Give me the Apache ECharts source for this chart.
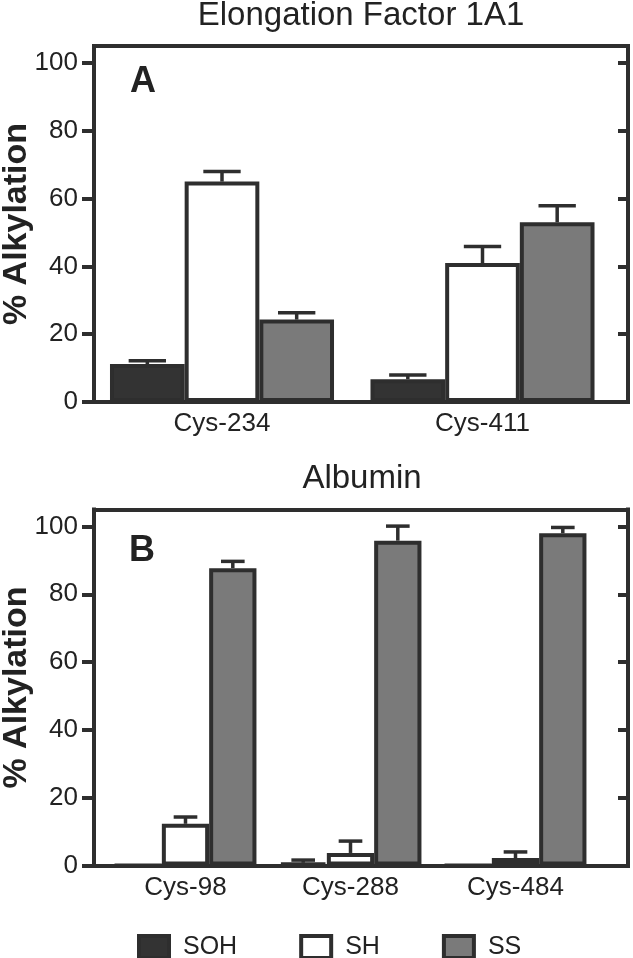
<!DOCTYPE html>
<html><head><meta charset="utf-8">
<script src="https://cdn.jsdelivr.net/npm/echarts@6/dist/echarts.min.js"></script>
<style>html,body{margin:0;padding:0;background:#fff}#c{width:633px;height:958px}</style>
</head><body><div id="c"></div>
<script>
// ---- data ----
const seriesNames = ['SOH', 'SH', 'SS'];
const catsA = ['Cys-234', 'Cys-411'];
const sohA = [11.2, 6.7];   const sohErrA = [1.0, 1.3];
const shA  = [65.0, 41.0];  const shErrA  = [3.0, 4.9];
const ssA  = [24.3, 53.0];  const ssErrA  = [2.0, 4.9];
const catsB = ['Cys-98', 'Cys-288', 'Cys-484'];
const sohB = [0, 0.8, 0];        const sohErrB = [0, 0.8, 0];
const shB  = [12.3, 3.7, 2.2];   const shErrB  = [2.0, 3.5, 1.8];
const ssB  = [87.7, 95.8, 98.0]; const ssErrB  = [2.0, 4.3, 1.7];
const yTicks = [0, 20, 40, 60, 80, 100];
const panelTitles = ['Elongation Factor 1A1', 'Albumin'];
const panelLetters = ['A', 'B'];
const yName = '% Alkylation';

// ---- style ----
const FONT = '"Liberation Sans", Arial, Helvetica, sans-serif';
const AX = '#2e2e2e';
const TXT = '#222222';
const fills = ['#333333', '#ffffff', '#7a7a7a'];
const CAT_GAP = 0.14;

const chart = echarts.init(document.getElementById('c'), null, {renderer: 'canvas'});

function frameAxesX(gi) {
  const base = {gridIndex: gi, type: 'value', min: 0, max: 1,
    axisLine: {show: true, onZero: false, lineStyle: {color: AX, width: 4, cap: 'square'}},
    axisTick: {show: false}, axisLabel: {show: false}, splitLine: {show: false}};
  return [Object.assign({position: 'bottom'}, base), Object.assign({position: 'top'}, base)];
}
function frameAxesY(gi) {
  return [
    {gridIndex: gi, type: 'value', min: 0, max: 105, position: 'left',
     axisLine: {show: true, onZero: false, lineStyle: {color: AX, width: 4, cap: 'square'}},
     axisTick: {show: true, length: 12, inside: false, customValues: yTicks, lineStyle: {color: AX, width: 4}},
     axisLabel: {show: true, customValues: yTicks, fontSize: 26, margin: 16, color: TXT, fontFamily: FONT},
     splitLine: {show: false},
     name: yName, nameLocation: 'middle', nameGap: 60, nameMoveOverlap: false,
     nameTextStyle: {fontSize: 34, fontWeight: 'bold', color: TXT, fontFamily: FONT}},
    {gridIndex: gi, type: 'value', min: 0, max: 105, position: 'right',
     axisLine: {show: true, onZero: false, lineStyle: {color: AX, width: 4, cap: 'square'}},
     axisTick: {show: true, length: 10, inside: true, customValues: yTicks, lineStyle: {color: AX, width: 4}},
     axisLabel: {show: false}, splitLine: {show: false}}
  ];
}
function barAxisX(gi, cats) {
  return {gridIndex: gi, type: 'category', data: cats,
    axisLine: {show: false}, axisTick: {show: false},
    axisLabel: {fontSize: 26, margin: 9, color: TXT, fontFamily: FONT}, splitLine: {show: false}};
}
function barAxisY(gi) {
  return {gridIndex: gi, type: 'value', min: 0, max: 105, show: false, splitLine: {show: false}};
}

function barSeries(name, idx, values, axisIdx) {
  return {name: name, type: 'bar', xAxisIndex: axisIdx, yAxisIndex: axisIdx,
    data: values, barGap: '0%', barCategoryGap: (CAT_GAP * 100) + '%',
    itemStyle: {color: fills[idx], borderColor: AX, borderWidth: 4}, z: 2};
}
function errSeries(name, idx, values, errs, axisIdx) {
  const data = values.map((v, i) => [i, v, errs[i]]);
  return {name: name, type: 'custom', xAxisIndex: axisIdx, yAxisIndex: axisIdx,
    data: data, encode: {x: 0, y: 1}, z: 5, silent: true,
    renderItem: function (params, api) {
      const e = api.value(2);
      if (!(e > 0)) return null;
      const c = api.value(0), v = api.value(1);
      const p0 = api.coord([c, v]);
      const p1 = api.coord([c, v + e]);
      const catW = api.size([1, 0])[0];
      const bw = catW * (1 - CAT_GAP) / 3;
      const x = p0[0] + (idx - 1) * bw;
      const half = bw * 0.25;
      const st = {stroke: AX, lineWidth: 3.5};
      return {type: 'group', children: [
        {type: 'line', shape: {x1: x, y1: p0[1], x2: x, y2: p1[1]}, style: st},
        {type: 'line', shape: {x1: x - half, y1: p1[1], x2: x + half, y2: p1[1]}, style: st}
      ]};
    }};
}

const dataA = [[sohA, sohErrA], [shA, shErrA], [ssA, ssErrA]];
const dataB = [[sohB, sohErrB], [shB, shErrB], [ssB, ssErrB]];

const series = [];
seriesNames.forEach((n, i) => series.push(barSeries(n, i, dataA[i][0], 2)));
seriesNames.forEach((n, i) => series.push(barSeries(n, i, dataB[i][0], 5)));
seriesNames.forEach((n, i) => series.push(errSeries(n, i, dataA[i][0], dataA[i][1], 2)));
seriesNames.forEach((n, i) => series.push(errSeries(n, i, dataB[i][0], dataB[i][1], 5)));

const G = {containLabel: false, outerBoundsMode: 'none'};
const option = {
  animation: false,
  backgroundColor: '#ffffff',
  textStyle: {fontFamily: FONT},
  grid: [
    Object.assign({left: 94, top: 46, width: 534, height: 356}, G),
    Object.assign({left: 91.75, top: 46, width: 521, height: 356}, G),
    Object.assign({left: 94, top: 509.5, width: 534, height: 356}, G),
    Object.assign({left: 103, top: 509.5, width: 495, height: 356}, G)
  ],
  xAxis: [].concat(frameAxesX(0), [barAxisX(1, catsA)], frameAxesX(2), [barAxisX(3, catsB)]),
  yAxis: [].concat(frameAxesY(0), [barAxisY(1)], frameAxesY(2), [barAxisY(3)]),
  legend: {
    data: seriesNames, left: 132, top: 929, orient: 'horizontal',
    itemWidth: 30, itemHeight: 22, itemGap: 62, icon: 'rect',
    itemStyle: {borderColor: AX, borderWidth: 4},
    textStyle: {fontSize: 25, color: TXT, fontFamily: FONT, padding: [0, 0, 0, 9]},
    selectedMode: false
  },
  graphic: [
    {type: 'text', x: 361, y: 16, style: {text: panelTitles[0], fontSize: 33, fontFamily: FONT, fill: TXT, align: 'center', verticalAlign: 'middle'}},
    {type: 'text', x: 362, y: 479, style: {text: panelTitles[1], fontSize: 33, fontFamily: FONT, fill: TXT, align: 'center', verticalAlign: 'middle'}},
    {type: 'text', x: 130, y: 82, style: {text: panelLetters[0], fontSize: 36, fontWeight: 'bold', fontFamily: FONT, fill: TXT, align: 'left', verticalAlign: 'middle'}},
    {type: 'text', x: 129, y: 551, style: {text: panelLetters[1], fontSize: 36, fontWeight: 'bold', fontFamily: FONT, fill: TXT, align: 'left', verticalAlign: 'middle'}}
  ],
  series: series
};
chart.setOption(option);
</script>
</body></html>
